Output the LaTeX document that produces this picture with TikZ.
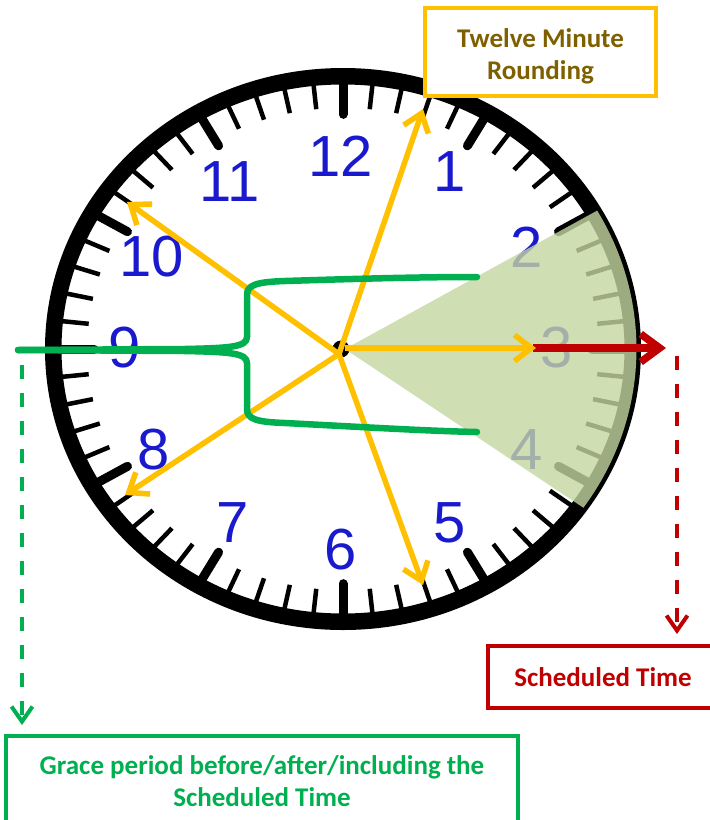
\documentclass[tikz,border=0pt]{standalone}
\usepackage{fontspec}
\setmainfont{Liberation Sans}
\newfontfamily\lblfont{Carlito}
\usetikzlibrary{arrows.meta}
\definecolor{numblue}{RGB}{25,25,205}
\definecolor{gold}{RGB}{255,192,0}
\definecolor{olivetxt}{RGB}{127,96,0}
\definecolor{darkred}{RGB}{192,0,0}
\definecolor{grn}{RGB}{0,176,80}
\definecolor{wedgecol}{RGB}{197,214,160}
\begin{document}
\begin{tikzpicture}[x=1pt,y=-1pt,
  ring/.style={line width=16.5pt},
  minortick/.style={line width=4.5pt},
  majortick/.style={line width=9pt,line cap=round},
  num/.style={text=numblue,font=\fontsize{58}{58}\selectfont,inner sep=0pt},
  hand/.style={draw=gold,line width=5.5pt,-{Straight Barb[length=17pt,width=26pt]}},
  redhand/.style={draw=darkred,line width=7.5pt,-{Straight Barb[length=19pt,width=28pt]}},
  brace/.style={draw=grn,line width=6.5pt,line cap=round,line join=round},
  dashedarrow/.style={line width=4pt,dash pattern=on 14pt off 14pt,-{Straight Barb[length=15pt,width=21pt]}},
  labelbox/.style={line width=3.5pt,fill=white,inner sep=0pt},
  labeltext/.style={font=\lblfont\bfseries\fontsize{27}{32}\selectfont,align=center,inner sep=0pt}
]
\useasboundingbox (0,0) rectangle (710,820);
\clip (0,0) rectangle (710,820);
\fill[white] (0,0) rectangle (710,820);

% clock ring
\draw[ring] (343,349) ellipse [x radius=289.75, y radius=272.75];
% ticks
\foreach \m in {0,...,59}{
  \pgfmathsetmacro\t{6*\m-90}
  \pgfmathtruncatemacro\maj{mod(\m,5)==0 ? 1 : 0}
  \ifnum\maj=1
    \draw[majortick] ({343+298*0.95*cos(\t)},{349+281*0.95*sin(\t)}) -- ({343+298*0.835*cos(\t)},{349+281*0.835*sin(\t)});
  \else
    \draw[minortick] ({343+298*0.95*cos(\t)},{349+281*0.95*sin(\t)}) -- ({343+298*0.858*cos(\t)},{349+281*0.858*sin(\t)});
  \fi
}
% numbers
\node[num] (n12) at (341,156) {12};
\node[num] (n1) at (450,172) {1};
\node[num] (n2) at (527,247) {2};
\node[num] (n3) at (557,348) {3};
\node[num] (n4) at (527,450) {4};
\node[num] (n5) at (450,523) {5};
\node[num] (n6) at (341,550) {6};
\node[num] (n7) at (233,523) {7};
\node[num] (n8) at (154,450) {8};
\node[num] (n9) at (125,348) {9};
\node[num] (n10) at (152,257) {10};
\node[num] (n11) at (230,182) {11};

% centre pin
\fill (341,349) circle [radius=8.5];

% shaded twelve-minute sector
\fill[wedgecol,fill opacity=0.8] (345,349) -- plot[domain=-30:35,samples=50] ({343+293.5*cos(\x)},{349+276.8*sin(\x)}) -- cycle;

% coordinates
\coordinate (c) at (339,354);
\coordinate (c3) at (345,348);
\coordinate (h1) at (423,109);
\coordinate (h10) at (127,202);
\coordinate (h3) at (536,348);
\coordinate (h8) at (125,495);
\coordinate (h5) at (423,585);
\coordinate (rt) at (666,348);

% red arrow
\draw[redhand] (533,348) -- (rt);
% yellow hands
\draw[hand] (c) -- (h1);
\draw[hand] (c) -- (h10);
\draw[hand] (c) -- (h8);
\draw[hand] (c) -- (h5);
\draw[hand] (c3) -- (h3);

% green brace
\coordinate (bl) at (18,350);
\draw[brace] (bl) -- (185,349) .. controls (230,348) and (247,347) .. (247,337) -- (247,295) .. controls (247,285) and (256,282) .. (285,281) .. controls (380,278) and (430,277) .. (477,277);
\draw[brace] (bl) -- (185,351) .. controls (230,352) and (247,353) .. (247,363) -- (247,409) .. controls (247,419) and (256,422) .. (285,423) .. controls (380,428) and (430,431) .. (477,432);

% boxes
\node[labelbox,draw=gold,minimum width=231pt,minimum height=88pt] (twelvebox) at (540.5,52) {};
\node[labeltext,text=olivetxt] (twelve) at (540.5,56) {Twelve Minute\\Rounding};

\node[labelbox,draw=darkred,minimum width=230pt,minimum height=62pt] (schedbox) at (603,677) {};
\node[labeltext,text=darkred] (sched) at (603,677) {Scheduled Time};

\node[labelbox,draw=grn,minimum width=512pt,minimum height=110pt] (gracebox) at (262,791) {};
\node[labeltext,text=grn] (grace) at (262,781) {Grace period before/after/including the\\Scheduled Time};

% dashed connectors
\coordinate (rs) at (677,356);
\coordinate (re) at (677,634);
\draw[dashedarrow,draw=darkred] (rs) -- (re);
\coordinate (gs) at (22,365);
\coordinate (ge) at (22,725);
\draw[dashedarrow,draw=grn] (gs) -- (ge);
\end{tikzpicture}
\end{document}
